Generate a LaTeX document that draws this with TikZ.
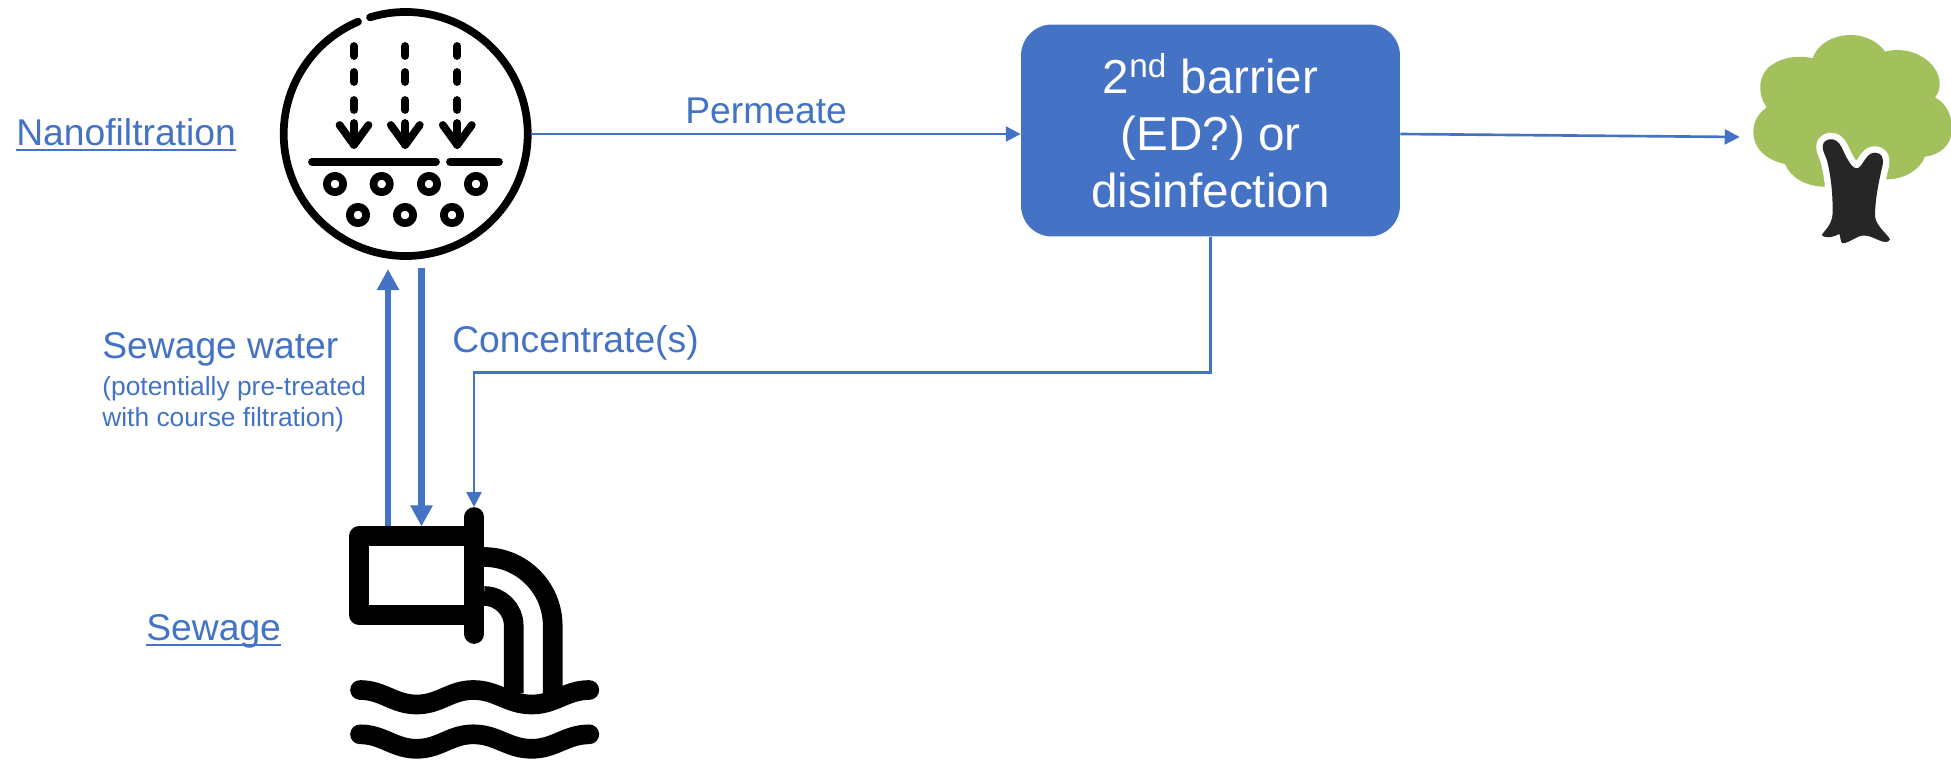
\documentclass[tikz,border=0pt]{standalone}
\usepackage{fontspec}
\setmainfont{Liberation Sans}
\usetikzlibrary{arrows.meta,positioning,calc}

\definecolor{flowblue}{HTML}{4472C4}
\definecolor{crowngreen}{HTML}{A2C05B}
\definecolor{trunkgrey}{HTML}{262626}

\newcommand{\ultext}[1]{\setbox0=\hbox{#1}\rlap{\rule[-3.4pt]{\wd0}{1.1pt}}\box0}

\tikzset{
  label/.style={inner sep=0pt, anchor=base west, text=flowblue, font=\fontsize{21.2}{25}\selectfont},
  smalllabel/.style={label, font=\fontsize{15}{17.5}\selectfont, align=left},
  thinflow/.style={draw=flowblue, line width=1.5pt, -{Triangle[length=8.5pt,width=8.5pt]}},
  thickflow/.style={draw=flowblue, line width=3.6pt, -{Triangle[length=12pt,width=12pt]}},
  iconline/.style={line width=4.4pt, line cap=round, line join=round},
  pipeline/.style={line width=11.2pt, line cap=round, line join=round},
}

\begin{document}
\begin{tikzpicture}[x=0.02cm, y=-0.02cm]
\useasboundingbox (0,0) rectangle (1951,761);

% Nanofiltration icon
\node[circle, minimum size=5cm, inner sep=0pt, name=nano] at (405.7,134) {};
\draw[iconline] (nano.center) ++(-107:122) arc[start angle=-107, end angle=247, radius=122];
\foreach \x in {354,405.3,457.3} {
  \foreach \y in {46,72,100} \draw[iconline] (\x,\y) -- (\x,\y+10);
  \draw[iconline] (\x,123) -- (\x,145);
  \draw[iconline] (\x-14.5,125) -- (\x,145) -- (\x+14.5,125);
}
\draw[iconline] (312,161.7) -- (436,161.7);
\draw[iconline] (450,161.7) -- (499,161.7);
\foreach \x/\y in {335/184,381.7/184,429/184,476/184,358/215,405/215,452/215}
  \draw[iconline] (\x,\y) circle[radius=8.2];

% Sewage pipe icon
\node[rectangle, draw, line width=11.2pt, line join=round, minimum width=2.306cm, minimum height=1.568cm, inner sep=0pt, outer sep=5.6pt, name=pipe] at (416.6,575.5) {};
\draw[pipeline] (474.3,517) -- (474.3,634);
\draw[line width=11.2pt] (484,557) .. controls (521.9,557) and (552.7,587.8) .. (552.7,625.7) -- (552.7,693);
\draw[line width=11.2pt] (484,596) .. controls (500.4,596) and (513.7,609.3) .. (513.7,625.7) -- (513.7,693);
\foreach \y in {690,734.3} {
  \draw[pipeline] (360,\y) to[out=0,in=180] (416.7,\y+14.5) to[out=0,in=180] (473.3,\y) to[out=0,in=180] (531.7,\y+14.5) to[out=0,in=180] (589.3,\y);
}

% Tree icon
\begin{scope}[shift={(1730,10)}, x=0.00667cm, y=-0.00667cm]
\fill[crowngreen] (285,530) .. controls (225,530) and (180,500) .. (165,462)
  .. controls (105,450) and (68,410) .. (70,365)
  .. controls (70,335) and (85,310) .. (110,292)
  .. controls (80,250) and (85,190) .. (125,165)
  .. controls (160,140) and (210,135) .. (248,145)
  .. controls (265,95) and (320,75) .. (360,75)
  .. controls (410,75) and (450,100) .. (465,125)
  .. controls (520,110) and (590,130) .. (620,185)
  .. controls (635,215) and (630,245) .. (615,262)
  .. controls (650,280) and (668,320) .. (665,360)
  .. controls (665,405) and (630,435) .. (585,440)
  .. controls (570,480) and (520,510) .. (465,508) -- cycle;
\path[fill=trunkgrey, preaction={draw=white, line width=7.4pt, line join=round}]
  (278,410) .. controls (278,385) and (318,375) .. (335,412)
  .. controls (350,445) and (365,475) .. (380,475)
  .. controls (398,475) and (405,428) .. (435,428)
  .. controls (455,428) and (462,445) .. (458,465)
  .. controls (445,520) and (435,570) .. (435,620)
  .. controls (440,650) and (470,670) .. (480,688)
  .. controls (475,700) and (460,697) .. (445,690)
  .. controls (420,678) and (400,672) .. (385,680)
  .. controls (365,690) and (350,700) .. (338,700)
  .. controls (330,695) and (332,680) .. (328,672)
  .. controls (315,678) and (290,690) .. (275,675)
  .. controls (290,655) and (308,640) .. (308,605)
  .. controls (308,560) and (305,510) .. (292,455)
  .. controls (288,440) and (278,425) .. (278,410) -- cycle;
\end{scope}
\node[inner sep=0pt, minimum width=4cm, minimum height=3cm, name=tree] at (1840,137) {};

% 2nd barrier box
\node[rectangle, rounded corners=0.62cm, fill=flowblue, minimum width=7.58cm, minimum height=4.24cm, inner sep=0pt, text=white, align=center, font=\fontsize{27.1}{32.3}\selectfont, name=barrier] at (1210.5,130.5) {2\textsuperscript{nd} barrier\\(ED?) or\\disinfection};

% labels
\node[label, name=nano_label] at (16,145) {\ultext{Nanofiltration}};
\node[label, name=sewage_label] at (146,640) {\ultext{Sewage}};
\node[label, name=permeate] at (685,123) {Permeate};
\node[label, name=concentrate] at (452,352) {Concentrate(s)};
\node[label, name=sewage_water] at (102,358) {Sewage water};
\node[smalllabel, name=pretreated] at (102,426) {(potentially pre-treated\\with course filtration)};

% arrows
\coordinate (water_in) at (388,269);
\coordinate (water_out) at (421.5,268);
\coordinate (conc_bend) at (474,372.3);
\coordinate (conc_end) at (474,507);
\draw[thickflow] (pipe.north -| water_in) -- (water_in);
\draw[thickflow] (water_out) -- (water_out |- pipe.north);
\draw[thinflow] (barrier.south) |- (conc_bend) -- (conc_end);
\draw[thinflow] (nano.east) -- (nano.east -| barrier.west);
\draw[thinflow] (nano.east -| barrier.east) -- (tree.west);
\end{tikzpicture}
\end{document}
